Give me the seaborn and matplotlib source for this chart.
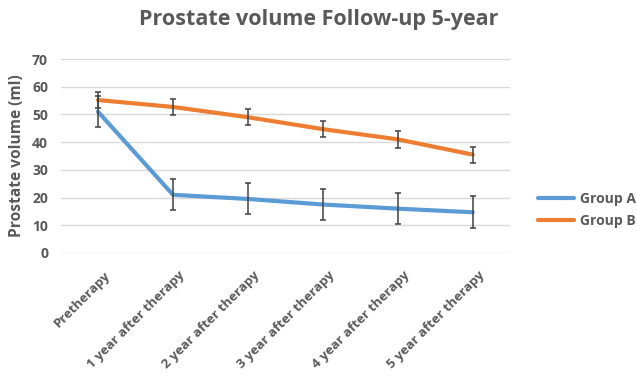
import matplotlib
matplotlib.use("Agg")
import matplotlib.pyplot as plt
import matplotlib.transforms as mtransforms
import numpy as np
import pandas as pd
import seaborn as sns

# Follow-up time points
timepoints = ["Pretherapy", "1 year after therapy", "2 year after therapy",
              "3 year after therapy", "4 year after therapy", "5 year after therapy"]

# Mean prostate volume (ml) and error half-widths
group_a_mean = [51.0, 21.0, 19.5, 17.5, 16.0, 14.7]
group_a_err = [5.5, 5.6, 5.6, 5.6, 5.5, 5.7]
group_b_mean = [55.2, 52.7, 49.0, 44.7, 41.0, 35.5]
group_b_err = [3.0, 3.0, 2.9, 3.0, 3.1, 2.9]

groups = ["Group A", "Group B"]
colors = {"Group A": "#5B9BD5", "Group B": "#ED7D31"}
text_color = "#595959"

df = pd.DataFrame({
    "time": timepoints * 2,
    "volume": group_a_mean + group_b_mean,
    "err": group_a_err + group_b_err,
    "group": ["Group A"] * len(timepoints) + ["Group B"] * len(timepoints),
})

sns.set_theme(style="white")
plt.rcParams["font.family"] = ["Open Sans", "DejaVu Sans"]

fig = plt.figure(figsize=(6.37, 3.82), dpi=100)
ax = fig.add_axes([0.095, 0.3377, 0.706, 0.5078])

sns.lineplot(data=df, x="time", y="volume", hue="group", palette=colors,
             linewidth=3.0, sort=False, ax=ax, legend=False, zorder=3)

xpos = np.arange(len(timepoints))
for g in groups:
    sub = df[df["group"] == g]
    ax.errorbar(xpos, sub["volume"], yerr=sub["err"], fmt="none",
                ecolor="#404040", elinewidth=1.1, capsize=2.5, capthick=1.1,
                zorder=4)

ax.set_xlim(-0.5, len(timepoints) - 0.5)
ax.set_ylim(0, 70)
ax.set_yticks(range(0, 71, 10))
ax.yaxis.grid(True, color="#d9d9d9", linewidth=1.0)
ax.set_axisbelow(True)
for s in ax.spines.values():
    s.set_visible(False)

ax.tick_params(axis="y", length=0, pad=9, labelsize=10, labelcolor=text_color)
ax.tick_params(axis="x", length=0, pad=0, labelsize=9.5, labelcolor=text_color)
for lab in ax.get_yticklabels():
    lab.set_fontweight("bold")

ax.set_xticks(xpos)
ax.set_xticklabels(timepoints, rotation=45, ha="right", va="center",
                   rotation_mode="anchor", fontweight="bold")
offset = mtransforms.ScaledTranslation(10 / 100, -20 / 100, fig.dpi_scale_trans)
for lab in ax.get_xticklabels():
    lab.set_transform(lab.get_transform() + offset)

ax.set_xlabel("")
ax.set_ylabel("Prostate volume (ml)", fontsize=11.2, fontweight="bold",
              color=text_color, labelpad=5)

fig.text(0.5, 0.95, "Prostate volume Follow-up 5-year", ha="center", va="center",
         fontsize=15.5, fontweight="bold", color=text_color)

handles = [plt.Line2D([], [], color=colors[g], linewidth=3.0) for g in groups]
leg = fig.legend(handles, groups, loc="center left", bbox_to_anchor=(0.825, 0.45),
                 frameon=False, handlelength=2.6, handletextpad=0.4,
                 labelspacing=0.6, prop={"size": 10, "weight": "bold"})
for t in leg.get_texts():
    t.set_color(text_color)

fig.savefig("out.png", dpi=100, facecolor="white")
